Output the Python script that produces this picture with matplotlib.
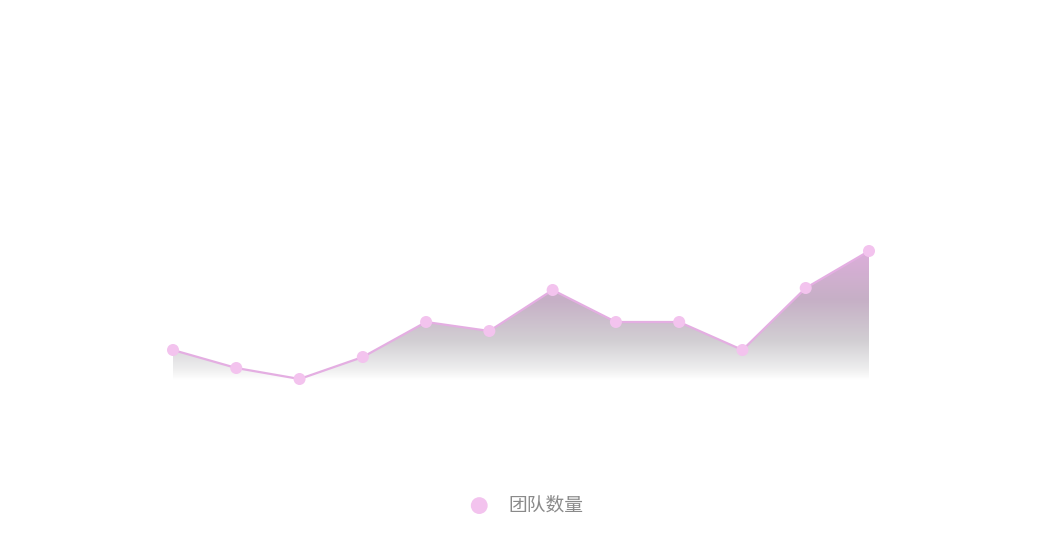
import matplotlib
matplotlib.use("Agg")
import matplotlib.pyplot as plt
import numpy as np
from matplotlib.colors import LinearSegmentedColormap
from matplotlib.patches import Polygon

plt.rcParams['font.family'] = ['Noto Sans CJK SC', 'DejaVu Sans']

categories = ['1', '2', '3', '4', '5', '6', '7', '8', '9', '10', '11', '12']
team_counts = [50, 32, 21, 43, 78, 69, 110, 78, 78, 50, 112, 149]
series_name = '团队数量'

fig = plt.figure(figsize=(10.51, 5.37), dpi=100)
ax = fig.add_axes([173/1051, 157/537, 696/1051, 320/537])
x = np.arange(len(categories))
y = np.array(team_counts)
ymin, ymax = 20, 340
ax.set_xlim(0, len(categories) - 1)
ax.set_ylim(ymin, ymax)
ax.axis('off')

# gradient fill
cmap = LinearSegmentedColormap.from_list('g', [
    (0.0, '#dcaeda'),
    (0.38, '#c6b0c6'),
    (0.7, '#d2cfd3'),
    (0.92, '#efefef'),
    (1.0, '#ffffff'),
])
top = y.max()
grad = np.linspace(0, 1, 256).reshape(-1, 1)
im = ax.imshow(grad, cmap=cmap, aspect='auto',
               extent=[0, len(categories) - 1, ymin, top],
               origin='upper', zorder=1)
verts = [(0, ymin)] + list(zip(x, y)) + [(len(categories) - 1, ymin)]
poly = Polygon(verts, closed=True, facecolor='none', edgecolor='none')
ax.add_patch(poly)
im.set_clip_path(poly)

ax.plot(x, y, color='#e4aee2', lw=1.6, zorder=3, clip_on=False)
sc = ax.scatter(x, y, s=75, color='#f3c3ee', zorder=4, edgecolors='none',
                label=series_name, clip_on=False)

leg = fig.legend(handles=[sc], labels=[series_name],
                 loc='center', bbox_to_anchor=(522/1051, 1 - 505/537),
                 frameon=False, fontsize=13.5, handletextpad=0.56,
                 markerscale=1.4)
for t in leg.get_texts():
    t.set_color('#8a8a8a')

fig.savefig('out.png', dpi=100)
